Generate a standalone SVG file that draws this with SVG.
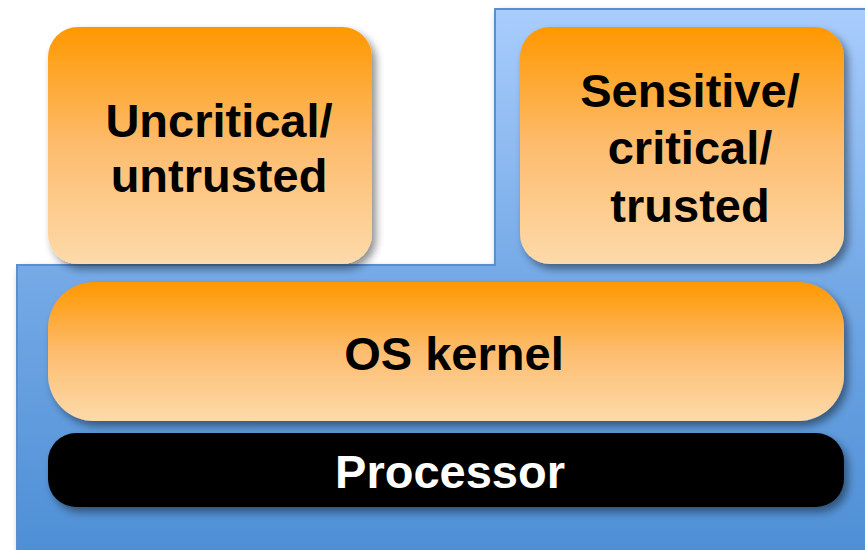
<svg xmlns="http://www.w3.org/2000/svg" width="865" height="550" viewBox="0 0 865 550">
<defs>
<linearGradient id="blue" gradientUnits="userSpaceOnUse" x1="0" y1="9" x2="0" y2="550">
<stop offset="0" stop-color="#a9cdfd"/>
<stop offset="0.5" stop-color="#74a9e6"/>
<stop offset="1" stop-color="#4e8fd5"/>
</linearGradient>
<linearGradient id="orange" x1="0" y1="0" x2="0" y2="1">
<stop offset="0" stop-color="#ff9800"/>
<stop offset="0.5" stop-color="#fdbc6e"/>
<stop offset="1" stop-color="#fddaaa"/>
</linearGradient>
<filter id="shadow" x="-10%" y="-10%" width="125%" height="130%">
<feGaussianBlur in="SourceAlpha" stdDeviation="4"/>
<feOffset dx="4" dy="5" result="b"/>
<feComponentTransfer><feFuncA type="linear" slope="0.45"/></feComponentTransfer>
<feMerge><feMergeNode/><feMergeNode in="SourceGraphic"/></feMerge>
</filter>
</defs>
<style>
.box{fill:url(#orange);filter:url(#shadow);}
.lbl{font-family:"Liberation Sans",Arial,sans-serif;font-weight:bold;font-size:47px;text-anchor:middle;fill:#000;}
</style>
<g id="platform">
<path d="M17,265 H495 V9 H870 V556 H17 Z" fill="url(#blue)" stroke="#5a8fcf" stroke-width="2" filter="url(#shadow)"/>
</g>
<g id="uncritical">
<rect class="box" x="48" y="27" width="324" height="237" rx="30"/>
<text class="lbl" x="219" y="137">Uncritical/</text>
<text class="lbl" x="219" y="192">untrusted</text>
</g>
<g id="sensitive">
<rect class="box" x="520" y="27" width="324" height="237" rx="30"/>
<text class="lbl" x="690" y="107">Sensitive/</text>
<text class="lbl" x="690" y="164">critical/</text>
<text class="lbl" x="690" y="222">trusted</text>
</g>
<g id="kernel">
<rect class="box" x="48" y="282" width="796" height="139" rx="46"/>
<text class="lbl" x="454" y="370">OS kernel</text>
</g>
<g id="processor">
<rect x="48" y="433" width="796" height="74" rx="28" fill="#000" filter="url(#shadow)"/>
<text class="lbl" x="450" y="488" style="fill:#fff">Processor</text>
</g>
<g id="connectors"/>
</svg>
